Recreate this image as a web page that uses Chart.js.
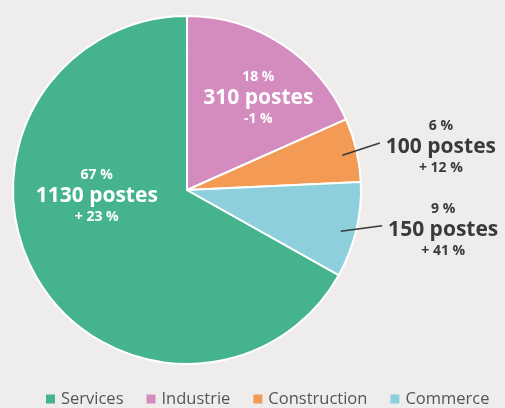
<!DOCTYPE html>
<html>
<head>
<meta charset="utf-8">
<script src="https://cdn.jsdelivr.net/npm/chart.js@4"></script>
<style>
  body { margin: 0; background: #efedec; }
  #wrap { width: 505px; height: 408px; }
</style>
</head>
<body>
<div id="wrap"><canvas id="pie-chart" width="505" height="408"></canvas></div>
<script>
const categories = ['Services', 'Industrie', 'Construction', 'Commerce'];
const postes = [1130, 310, 100, 150];
const shares = ['67 %', '18 %', '6 %', '9 %'];
const changes = ['+ 23 %', '-1 %', '+ 12 %', '+ 41 %'];

const COLORS = ['#45b48e', '#d48cbf', '#f39a55', '#8dcfdc'];
const FONT = "'Open Sans', sans-serif";

// label placement: angle (deg clockwise from top), radius as fraction of pie radius
const labelSpots = [
  { ang: 266, r: 0.52, inside: true },
  { ang: 37.7, r: 0.67, inside: true },
  { ang: 80.4, r: 1.48, inside: false, lineAng: 77.4 },
  { ang: 98.8, r: 1.49, inside: false, lineAng: 105 }
];

const polar = (cx, cy, r, deg) => {
  const a = (deg - 90) * Math.PI / 180;
  return { x: cx + r * Math.cos(a), y: cy + r * Math.sin(a) };
};

const sliceLabels = {
  id: 'sliceLabels',
  afterDatasetsDraw(chart) {
    const ctx = chart.ctx;
    const arcs = chart.getDatasetMeta(0).data;
    ctx.save();
    ctx.textAlign = 'center';
    ctx.textBaseline = 'middle';
    arcs.forEach((arc, i) => {
      const spot = labelSpots[i];
      const p = polar(arc.x, arc.y, arc.outerRadius * spot.r, spot.ang);
      const color = spot.inside ? '#ffffff' : '#3a3a3a';
      const big = postes[i] + ' postes';
      ctx.fillStyle = color;
      ctx.font = `700 21px ${FONT}`;
      const bigW = ctx.measureText(big).width;
      ctx.fillText(big, p.x, p.y);
      ctx.font = `700 14px ${FONT}`;
      ctx.fillText(shares[i], p.x, p.y - 21);
      ctx.fillText(changes[i], p.x, p.y + 21);
      if (!spot.inside) {
        const s = polar(arc.x, arc.y, arc.outerRadius * 0.915, spot.lineAng);
        ctx.strokeStyle = '#3a3a3a';
        ctx.lineWidth = 1.5;
        ctx.beginPath();
        ctx.moveTo(s.x, s.y);
        ctx.lineTo(p.x - bigW / 2 - 6, p.y - 4);
        ctx.stroke();
      }
    });
    ctx.restore();
  }
};

const bottomLegend = {
  id: 'bottomLegend',
  afterDraw(chart) {
    const ctx = chart.ctx;
    ctx.save();
    ctx.font = `400 16.5px ${FONT}`;
    ctx.textBaseline = 'middle';
    let x = 46;
    const y = 399;
    categories.forEach((name, i) => {
      ctx.fillStyle = COLORS[i];
      ctx.fillRect(x, y - 4.5, 9, 9);
      ctx.fillStyle = '#555555';
      ctx.fillText(name, x + 15, y);
      x += 15 + ctx.measureText(name).width + 23;
    });
    ctx.restore();
  }
};

new Chart(document.getElementById('pie-chart'), {
  type: 'pie',
  data: {
    labels: categories,
    datasets: [{
      data: postes,
      backgroundColor: COLORS,
      borderColor: '#ffffff',
      borderWidth: 2
    }]
  },
  options: {
    responsive: false,
    animation: false,
    rotation: 119.3,
    layout: { padding: { left: 12, top: 15, right: 143, bottom: 43 } },
    plugins: {
      legend: { display: false },
      tooltip: { enabled: false }
    }
  },
  plugins: [sliceLabels, bottomLegend]
});
</script>
</body>
</html>
